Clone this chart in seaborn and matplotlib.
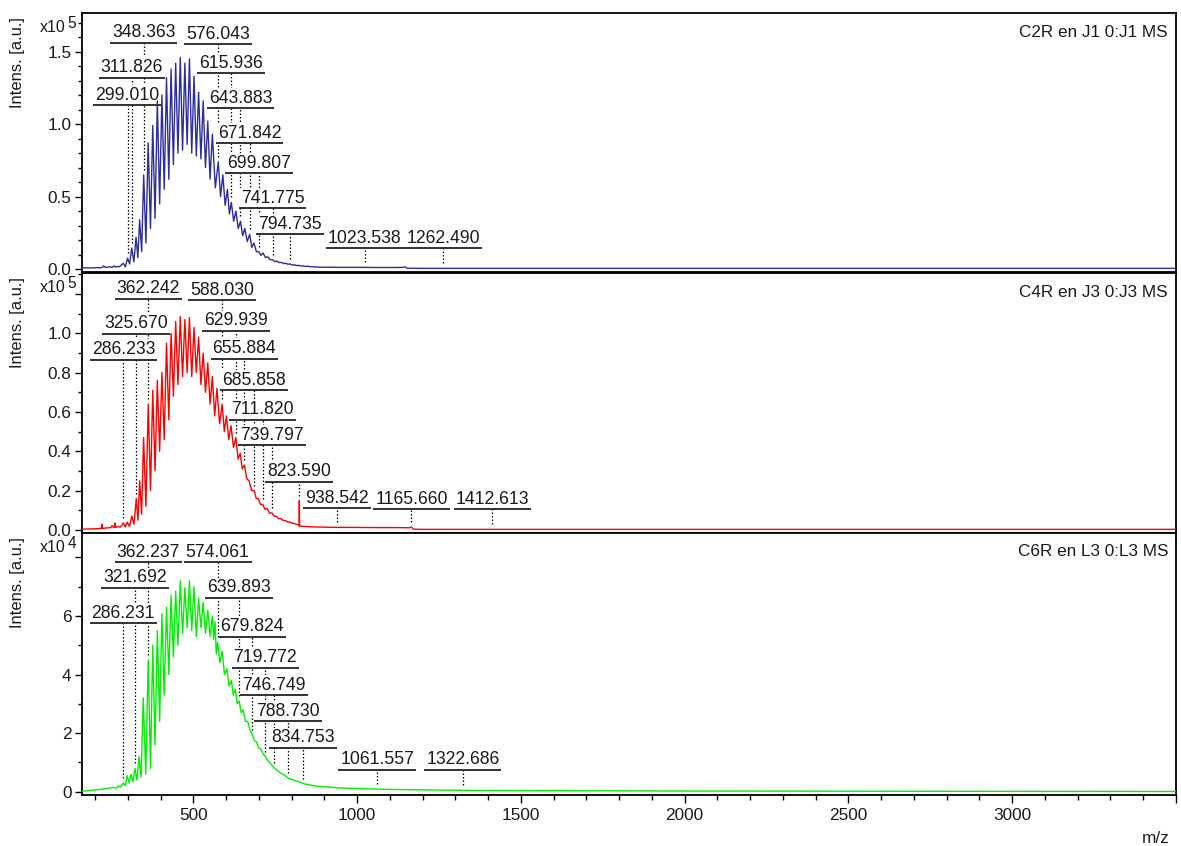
import numpy as np
import pandas as pd
import matplotlib
matplotlib.use("Agg")
import matplotlib.pyplot as plt
import matplotlib.transforms as mtransforms
from matplotlib.ticker import MultipleLocator, FuncFormatter
import seaborn as sns

# ---------------- C2R en J1 (intensity in units of 1e5) ----------------
c2r_lead_mz = [160, 175, 190, 205, 215, 222, 226, 232, 245, 252, 258, 262, 268, 274, 279]
c2r_lead_int = [0.008, 0.009, 0.008, 0.010, 0.009, 0.012, 0.022, 0.011, 0.016, 0.012,
                0.022, 0.014, 0.018, 0.016, 0.026]
c2r_peak_mz = [286, 299.010, 311.826, 325, 336, 348.363, 362, 376, 390, 404,
               418, 432, 446, 460, 474, 488, 502, 516, 530, 544,
               558, 576.043, 590, 604, 615.936, 630, 643.883, 657, 671.842, 685,
               699.807, 713, 727, 741.775, 755, 769, 783, 794.735, 808, 822,
               836, 850, 864, 878]
c2r_peak_int = [0.04, 0.076, 0.145, 0.22, 0.34, 0.65, 0.87, 0.99, 1.16, 1.20,
                1.32, 1.38, 1.42, 1.46, 1.42, 1.45, 1.33, 1.22, 1.16, 1.02,
                0.93, 0.74, 0.65, 0.55, 0.46, 0.40, 0.33, 0.28, 0.24, 0.18,
                0.12, 0.11, 0.085, 0.065, 0.055, 0.046, 0.04, 0.036, 0.03, 0.026,
                0.022, 0.02, 0.017, 0.015]
c2r_valley_int = [0.015, 0.035, 0.05, 0.08, 0.12, 0.18, 0.28, 0.35, 0.45, 0.55,
                  0.62, 0.72, 0.80, 0.82, 0.86, 0.80, 0.78, 0.76, 0.70, 0.62,
                  0.56, 0.50, 0.44, 0.38, 0.33, 0.28, 0.23, 0.19, 0.15, 0.12,
                  0.095, 0.08, 0.065, 0.052, 0.045, 0.038, 0.033, 0.028, 0.024, 0.021,
                  0.018, 0.016, 0.014, 0.013]
c2r_tail_mz = [900, 940, 1000, 1023.538, 1060, 1120, 1140, 1146, 1152, 1200,
               1262.490, 1500, 2000, 2500, 3000, 3500]
c2r_tail_int = [0.013, 0.012, 0.012, 0.012, 0.011, 0.011, 0.012, 0.016, 0.006, 0.005,
                0.005, 0.005, 0.005, 0.005, 0.005, 0.005]
c2r_label_mz = [299.010, 311.826, 348.363, 576.043, 615.936, 643.883, 671.842,
                699.807, 741.775, 794.735, 1023.538, 1262.490]

# ---------------- C4R en J3 (intensity in units of 1e5) ----------------
c4r_lead_mz = [160, 180, 200, 212, 219, 221, 223, 235, 248, 252, 256, 259, 261, 263, 270, 276, 281]
c4r_lead_int = [0.004, 0.005, 0.006, 0.007, 0.008, 0.028, 0.008, 0.010, 0.012, 0.022,
                0.012, 0.014, 0.036, 0.012, 0.018, 0.014, 0.022]
c4r_peak_mz = [286.233, 298, 312, 325.670, 336, 348, 362.242, 376, 390, 404,
               418, 432, 446, 460, 474, 488, 502, 516, 530, 544,
               558, 572, 588.030, 601, 615, 629.939, 643, 655.884, 670, 685.858,
               698, 711.820, 725, 739.797, 753, 767, 781, 795, 809]
c4r_peak_int = [0.036, 0.04, 0.07, 0.16, 0.25, 0.47, 0.64, 0.71, 0.76, 0.80,
                0.95, 1.00, 1.06, 1.085, 1.07, 1.08, 1.03, 0.98, 0.90, 0.85,
                0.78, 0.72, 0.64, 0.58, 0.53, 0.47, 0.39, 0.33, 0.25, 0.20,
                0.16, 0.13, 0.11, 0.087, 0.07, 0.058, 0.048, 0.04, 0.033]
c4r_valley_int = [0.015, 0.018, 0.03, 0.05, 0.08, 0.12, 0.20, 0.30, 0.40, 0.46,
                  0.56, 0.68, 0.74, 0.78, 0.80, 0.78, 0.80, 0.74, 0.70, 0.64,
                  0.58, 0.54, 0.50, 0.46, 0.42, 0.36, 0.31, 0.26, 0.20, 0.16,
                  0.13, 0.105, 0.085, 0.07, 0.058, 0.048, 0.04, 0.034, 0.028]
c4r_tail_mz = [820, 822.8, 823.590, 824.4, 835, 860, 900, 938.542, 980, 1060,
               1120, 1160, 1165.660, 1172, 1200, 1412.613, 1600, 2000, 2500, 3000, 3500]
c4r_tail_int = [0.025, 0.022, 0.15, 0.02, 0.018, 0.016, 0.014, 0.013, 0.013, 0.012,
                0.012, 0.011, 0.015, 0.004, 0.003, 0.003, 0.003, 0.003, 0.003, 0.003, 0.003]
c4r_label_mz = [286.233, 325.670, 362.242, 588.030, 629.939, 655.884, 685.858,
                711.820, 739.797, 823.590, 938.542, 1165.660, 1412.613]

# ---------------- C6R en L3 (intensity in units of 1e4) ----------------
c6r_lead_mz = [160, 180, 200, 220, 240, 255, 265, 272, 278]
c6r_lead_int = [0.02, 0.04, 0.06, 0.09, 0.12, 0.15, 0.12, 0.2, 0.16]
c6r_peak_mz = [286.231, 298, 310, 321.692, 334, 347, 362.237, 376, 390, 404,
               418, 432, 446, 460, 474, 488, 502, 516, 530, 544,
               558, 566, 574.061, 588, 602, 616, 628, 639.893, 652, 666,
               679.824, 693, 706, 719.772, 733, 746.749, 760, 774, 788.730, 802,
               818, 834.753, 850]
c6r_peak_int = [0.3, 0.55, 0.6, 0.8, 1.2, 3.2, 4.5, 5.0, 5.5, 6.07,
                6.3, 6.7, 6.85, 7.2, 6.96, 7.2, 7.0, 6.6, 6.45, 6.2,
                6.0, 5.8, 5.1, 4.8, 4.2, 3.8, 3.5, 3.1, 2.8, 2.4,
                1.95, 1.7, 1.45, 1.2, 1.0, 0.82, 0.7, 0.6, 0.47, 0.42,
                0.36, 0.28, 0.25]
c6r_valley_int = [0.2, 0.3, 0.35, 0.4, 0.5, 0.6, 0.8, 1.6, 2.4, 3.3,
                  4.0, 4.6, 5.0, 5.4, 5.6, 5.5, 5.3, 5.6, 5.4, 5.3,
                  5.2, 4.7, 4.4, 4.0, 3.6, 3.3, 3.0, 2.7, 2.4, 2.1,
                  1.75, 1.5, 1.3, 1.08, 0.9, 0.75, 0.63, 0.54, 0.44, 0.38,
                  0.33, 0.26, 0.23]
c6r_tail_mz = [870, 900, 950, 1000, 1061.557, 1100, 1200, 1322.686, 1400, 1500,
               2000, 2500, 3000, 3500]
c6r_tail_int = [0.2, 0.17, 0.13, 0.11, 0.09, 0.08, 0.065, 0.05, 0.045, 0.04,
                0.025, 0.02, 0.015, 0.01]
c6r_label_mz = [286.231, 321.692, 362.237, 574.061, 639.893, 679.824, 719.772,
                746.749, 788.730, 834.753, 1061.557, 1322.686]

# ---------------- layout: heights of the stacked peak labels ----------------
c2r_label_level = [1.129, 1.321, 1.562, 1.552, 1.349, 1.108, 0.867, 0.661, 0.42, 0.24, 0.145, 0.145]
c4r_label_level = [0.866, 0.998, 1.175, 1.168, 1.012, 0.871, 0.71, 0.56, 0.43, 0.246, 0.11, 0.105, 0.105]
c6r_label_level = [5.75, 6.96, 7.84, 7.84, 6.62, 5.29, 4.23, 3.29, 2.41, 1.50, 0.75, 0.75]


def assemble(lead_mz, lead_int, peak_mz, peak_int, valley_int, tail_mz, tail_int):
    """Join baseline, the peak/valley comb and the tail into one trace."""
    mz, inten = list(lead_mz), list(lead_int)
    following = list(peak_mz[1:]) + [peak_mz[-1] + 14]
    for p, h, v, n in zip(peak_mz, peak_int, valley_int, following):
        mz += [p, (p + n) / 2]
        inten += [h, v]
    mz += list(tail_mz)
    inten += list(tail_int)
    return pd.DataFrame({"m/z": mz, "Intens.": inten})


spectra = [
    dict(df=assemble(c2r_lead_mz, c2r_lead_int, c2r_peak_mz, c2r_peak_int, c2r_valley_int,
                     c2r_tail_mz, c2r_tail_int),
         labels=c2r_label_mz, levels=c2r_label_level, color="#2d2d9c",
         name="C2R en J1 0:J1 MS", exp="5", ylim=(-0.02, 1.766),
         major=0.5, minor=0.1, max_label=1.55, fmt="{:.1f}"),
    dict(df=assemble(c4r_lead_mz, c4r_lead_int, c4r_peak_mz, c4r_peak_int, c4r_valley_int,
                     c4r_tail_mz, c4r_tail_int),
         labels=c4r_label_mz, levels=c4r_label_level, color="#ff0000",
         name="C4R en J3 0:J3 MS", exp="5", ylim=(-0.013, 1.307),
         major=0.2, minor=0.1, max_label=1.05, fmt="{:.1f}"),
    dict(df=assemble(c6r_lead_mz, c6r_lead_int, c6r_peak_mz, c6r_peak_int, c6r_valley_int,
                     c6r_tail_mz, c6r_tail_int),
         labels=c6r_label_mz, levels=c6r_label_level, color="#00f000",
         name="C6R en L3 0:L3 MS", exp="4", ylim=(-0.11, 8.83),
         major=2, minor=1, max_label=7, fmt="{:.0f}"),
]

sns.set_theme(style="white")
plt.rcParams["font.family"] = ["Liberation Sans", "DejaVu Sans"]
plt.rcParams["text.color"] = "#1a1a1a"

W, H = 1181, 846
fig = plt.figure(figsize=(W / 100, H / 100), dpi=100)
panel_px = [(13, 272), (273, 532.5), (533, 795)]
x_left, x_right = 82, 1176


def px_shift(ax, dx, dy):
    return ax.transAxes + mtransforms.ScaledTranslation(dx / 100, dy / 100, fig.dpi_scale_trans)


axes = []
label_texts = []
for i, (spec, (top, bot)) in enumerate(zip(spectra, panel_px)):
    ax = fig.add_axes([x_left / W, 1 - bot / H, (x_right - x_left) / W, (bot - top) / H])
    axes.append(ax)
    df = spec["df"]
    sns.lineplot(data=df, x="m/z", y="Intens.", ax=ax, color=spec["color"], lw=1.0,
                 estimator=None, sort=False, zorder=4)
    ax.set_xlim(160, 3500)
    ax.set_ylim(*spec["ylim"])
    ax.set_xlabel("")
    ax.set_ylabel("")

    for s in ax.spines.values():
        s.set_color("black")
        s.set_linewidth(1.3)

    ax.yaxis.set_major_locator(MultipleLocator(spec["major"]))
    ax.yaxis.set_minor_locator(MultipleLocator(spec["minor"]))
    fmt, lim = spec["fmt"], spec["max_label"]
    ax.yaxis.set_major_formatter(FuncFormatter(
        lambda v, _p, fmt=fmt, lim=lim: fmt.format(abs(v) if abs(v) < 1e-9 else v) if v < lim else ""))
    ax.tick_params(axis="y", which="major", left=True, length=5, width=1.0, pad=2.5,
                   labelsize=12.4, labelcolor="#1a1a1a", color="black")
    ax.tick_params(axis="y", which="minor", left=True, length=3, width=1.0, color="black")

    ax.xaxis.set_major_locator(MultipleLocator(500))
    ax.xaxis.set_minor_locator(MultipleLocator(100))
    ax.xaxis.set_major_formatter(FuncFormatter(lambda v, _p: f"{v:.0f}" if v <= 3000 else ""))
    if i < 2:
        ax.tick_params(axis="x", which="both", bottom=False, labelbottom=False)
    else:
        ax.tick_params(axis="x", which="major", bottom=True, length=5.5, width=1.0, pad=4.2,
                       labelsize=12.4, labelcolor="#1a1a1a", color="black")
        ax.tick_params(axis="x", which="minor", bottom=True, length=3.6, width=1.0, color="black")
        ax.text(1, 0, "m/z", ha="right", va="center", fontsize=12.4,
                transform=px_shift(ax, -6, -43))

    # axis caption, exponent and spectrum name
    ax.text(0, 1, "Intens. [a.u.]", rotation=90, ha="center", va="top", fontsize=11.9,
            transform=px_shift(ax, -64, -4))
    ax.text(0, 1, "x10", ha="right", va="baseline", fontsize=11.5,
            transform=px_shift(ax, -16, -19))
    ax.text(0, 1, spec["exp"], ha="left", va="baseline", fontsize=11.2,
            transform=px_shift(ax, -14.5, -15))
    ax.text(1, 1, spec["name"], ha="right", va="center", fontsize=12.3,
            transform=px_shift(ax, -8, -19))

    # peak labels: dotted drop line from label to peak apex
    span = spec["ylim"][1] - spec["ylim"][0]
    gap = 0.019 * span
    text_shift = ax.transData + mtransforms.ScaledTranslation(0, 1.5 / 100, fig.dpi_scale_trans)
    for mz, lvl in zip(spec["labels"], spec["levels"]):
        apex = float(np.interp(mz, df["m/z"], df["Intens."]))
        ax.vlines(mz, apex + gap, lvl, colors="black", linestyles=(0, (1.2, 1.6)),
                  lw=0.9, zorder=2)
        t = ax.text(mz, lvl, f"{mz:.3f}", ha="center", va="bottom", fontsize=12.7,
                    transform=text_shift, zorder=3,
                    bbox=dict(facecolor="white", edgecolor="none", pad=1.3))
        label_texts.append((ax, t, lvl))

# underline every label across its text width
fig.canvas.draw()
renderer = fig.canvas.get_renderer()
for ax, t, lvl in label_texts:
    bb = t.get_window_extent(renderer)
    inv = ax.transData.inverted()
    x0 = inv.transform((bb.x0 - 2, 0))[0]
    x1 = inv.transform((bb.x1 + 2, 0))[0]
    ax.hlines(lvl, x0, x1, colors="#222222", lw=1.3, zorder=3.5)

fig.savefig("out.png", dpi=100)
